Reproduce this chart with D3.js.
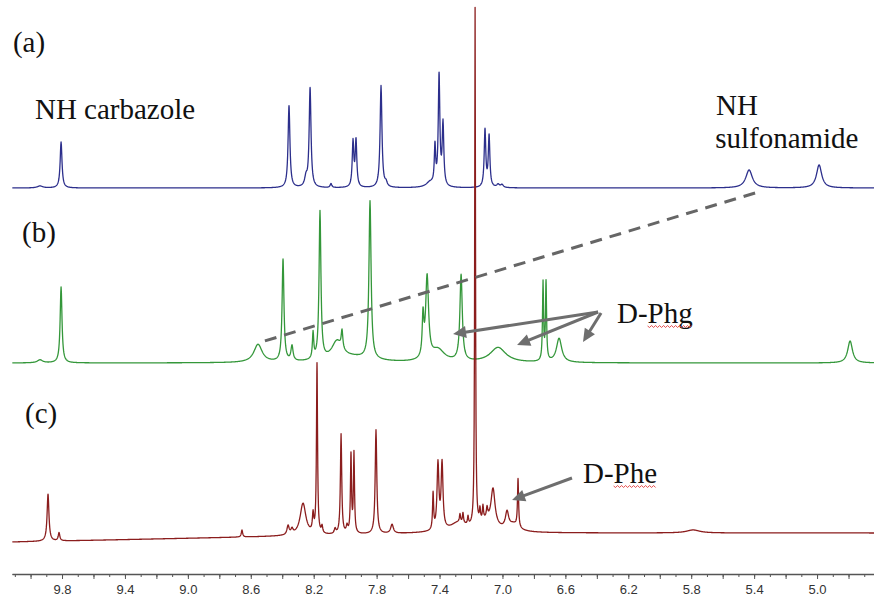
<!DOCTYPE html>
<html>
<head>
<meta charset="utf-8">
<script src="https://cdn.jsdelivr.net/npm/d3@7"></script>
<style>
body { margin: 0; background: #fff; }
svg { display: block; }
.axis text { font-family: "Liberation Sans", Arial, sans-serif; font-size: 13px; fill: #333; }
.axis path, .axis line { stroke: #555; }
.label { font-family: "Liberation Serif", "Times New Roman", serif; font-size: 29px; fill: #111; }
</style>
</head>
<body>
<svg id="nmr" width="874" height="599"></svg>
<script>
// chemical shift window (ppm) and the labelled ticks
var ppmRange = [10.118, 4.638];
var tickLabels = [9.8, 9.4, 9.0, 8.6, 8.2, 7.8, 7.4, 7.0, 6.6, 6.2, 5.8, 5.4, 5.0];

// peaks: [ppm, height, half width at half height (ppm)]
var peaksA = [
    [9.94, 2, 0.02], [9.806, 46, 0.007],
    [8.357, 82, 0.007], [8.249, 9, 0.01], [8.223, 99, 0.007], [8.090, 4, 0.006],
    [7.950, 45, 0.006], [7.931, 46, 0.006], [7.772, 102, 0.007], [7.740, 4, 0.008],
    [7.460, 5, 0.03], [7.429, 38, 0.005], [7.403, 110, 0.006], [7.378, 62, 0.006],
    [7.111, 57, 0.006], [7.085, 51, 0.006], [7.028, 3, 0.01], [7.003, 3, 0.01],
    [5.432, 18, 0.025], [4.987, 23, 0.02]
];
var peaksB = [
    [9.94, 3, 0.02], [9.806, 76, 0.007],
    [8.554, 18, 0.032], [8.395, 102, 0.007], [8.338, 15, 0.008], [8.204, 26, 0.005],
    [8.160, 148, 0.007], [8.052, 18, 0.04], [8.020, 18, 0.006], [7.95, 5, 0.15],
    [7.842, 158, 0.008], [7.505, 40, 0.006], [7.479, 82, 0.011], [7.410, 12, 0.05],
    [7.263, 86, 0.009], [7.028, 15, 0.06],
    [6.742, 78, 0.004], [6.723, 78, 0.004], [6.640, 24, 0.02], [4.790, 22, 0.018]
];
var peaksC = [
    [9.889, 47, 0.007], [9.819, 8, 0.006], [8.656, 7, 0.005],
    [8.363, 9, 0.008], [8.338, 5, 0.008], [8.268, 32, 0.022], [8.204, 18, 0.005],
    [8.179, 170, 0.004], [8.147, 7, 0.005], [8.064, 5, 0.006], [8.026, 100, 0.005],
    [7.988, 7, 0.006], [7.963, 78, 0.004], [7.944, 80, 0.004], [7.804, 104, 0.006],
    [7.702, 9, 0.01], [7.441, 36, 0.004], [7.410, 66, 0.007], [7.384, 66, 0.007],
    [7.28, 9, 0.06], [7.270, 8, 0.004], [7.251, 10, 0.004], [7.219, 8, 0.004],
    [7.174, 518, 0.003], [7.143, 12, 0.004], [7.124, 14, 0.004], [7.098, 10, 0.005],
    [7.10, 10, 0.06], [7.060, 36, 0.015], [6.971, 16, 0.012], [6.93, 7, 0.04],
    [6.901, 48, 0.004], [5.788, 3, 0.05]
];

// vertical offset of each trace baseline (intensity units)
var offsetA = 386;
var offsetB = 211;
var baselineC = [[10.12, 32], [8.6, 37], [7.4, 41], [4.6, 41]];

// annotations: [ppm, intensity] pairs
var dashLine = [[5.394, 381], [8.554, 231]];
var arrows = [
    [[6.392, 262], [7.314, 240]],
    [[6.392, 262], [6.907, 229]],
    [[6.373, 261], [6.488, 232]],
    [[6.558, 96], [6.939, 74]]
];
var labels = [
    {text: '(a)', ppm: 10.112, v: 522},
    {text: 'NH carbazole', ppm: 9.972, v: 455},
    {text: 'NH', ppm: 5.642, v: 459},
    {text: 'sulfonamide', ppm: 5.648, v: 426},
    {text: '(b)', ppm: 10.054, v: 332},
    {text: '(c)', ppm: 10.035, v: 151},
    {text: 'D-Phg', ppm: 6.272, v: 251, squiggle: 2},
    {text: 'D-Phe', ppm: 6.488, v: 91, squiggle: 2}
];

var svg = d3.select('#nmr');
var x = d3.scaleLinear().domain(ppmRange).range([12, 874]);
var y = d3.scaleLinear().domain([0, 560]).range([574, 14]);

function lorentz(peaks, p) {
    var s = 0;
    peaks.forEach(function (pk) {
        var d = p - pk[0], g = pk[2];
        s += pk[1] * g * g / (d * d + g * g);
    });
    return s;
}

function spectrum(peaks, base) {
    var pts = d3.range(ppmRange[1], ppmRange[0], 0.002);
    peaks.forEach(function (pk) { pts.push(pk[0]); });
    pts.sort(d3.descending);
    return pts.map(function (p) { return [p, base(p) + lorentz(peaks, p)]; });
}

var baseC = d3.scaleLinear()
    .domain(baselineC.map(function (d) { return d[0]; }))
    .range(baselineC.map(function (d) { return d[1]; }));

var line = d3.line()
    .x(function (d) { return x(d[0]); })
    .y(function (d) { return y(d[1]); });

var traces = [
    {data: spectrum(peaksA, function () { return offsetA; }), color: '#2c2f8c'},
    {data: spectrum(peaksB, function () { return offsetB; }), color: '#34973a'},
    {data: spectrum(peaksC, baseC), color: '#8b1d1d'}
];

svg.append('g').selectAll('path').data(traces).enter().append('path')
    .attr('d', function (d) { return line(d.data); })
    .attr('fill', 'none')
    .attr('stroke', function (d) { return d.color; })
    .attr('stroke-width', 1.3)
    .attr('stroke-linejoin', 'round');

// axis: long ticks every 0.2, short every 0.1, labels every 0.4
var minorAxis = d3.axisBottom(x)
    .tickValues(d3.range(4.7, 10.15, 0.1))
    .tickSize(3).tickSizeOuter(0).tickFormat('');
var majorAxis = d3.axisBottom(x)
    .tickValues(d3.range(4.8, 10.05, 0.2))
    .tickSize(5).tickSizeOuter(0).tickPadding(6)
    .tickFormat(function (d) {
        var hit = tickLabels.find(function (t) { return Math.abs(t - d) < 0.01; });
        return hit === undefined ? '' : hit.toFixed(1);
    });
svg.append('g').attr('class', 'axis').attr('transform', 'translate(0,' + y(0) + ')').call(minorAxis);
svg.append('g').attr('class', 'axis').attr('transform', 'translate(0,' + y(0) + ')').call(majorAxis)
    .select('.domain').attr('stroke-width', 1.5);

// dashed guide
svg.append('line')
    .attr('x1', x(dashLine[0][0])).attr('y1', y(dashLine[0][1]))
    .attr('x2', x(dashLine[1][0])).attr('y2', y(dashLine[1][1]))
    .attr('stroke', '#666').attr('stroke-width', 3)
    .attr('stroke-dasharray', '12,8');

// arrows
var ag = svg.append('g');
arrows.forEach(function (a) {
    var x1 = x(a[0][0]), y1 = y(a[0][1]), x2 = x(a[1][0]), y2 = y(a[1][1]);
    var len = Math.hypot(x2 - x1, y2 - y1), ux = (x2 - x1) / len, uy = (y2 - y1) / len;
    var hl = 13, hw = 6;
    var bx = x2 - ux * hl, by = y2 - uy * hl;
    ag.append('line')
        .attr('x1', x1).attr('y1', y1).attr('x2', bx + ux).attr('y2', by + uy)
        .attr('stroke', '#6e6e6e').attr('stroke-width', 3);
    ag.append('path')
        .attr('d', 'M' + x2 + ',' + y2 + 'L' + (bx - uy * hw) + ',' + (by + ux * hw) +
            'L' + (bx + uy * hw) + ',' + (by - ux * hw) + 'Z')
        .attr('fill', '#6e6e6e');
});

// text labels
labels.forEach(function (l) {
    var t = svg.append('text').attr('class', 'label')
        .attr('x', x(l.ppm)).attr('y', y(l.v)).text(l.text);
    if (l.squiggle !== undefined) {
        var node = t.node();
        var sx = node.getStartPositionOfChar(l.squiggle).x;
        var ex = x(l.ppm) + node.getComputedTextLength();
        var sy = y(l.v) + 3, d = 'M' + sx + ',' + sy;
        for (var i = 1, xx = sx + 2; xx <= ex; xx += 2, i++) {
            d += 'L' + xx + ',' + (sy + (i % 2 ? 1.5 : -0.5));
        }
        svg.append('path').attr('d', d).attr('fill', 'none')
            .attr('stroke', '#e03a3a').attr('stroke-width', 0.9);
    }
});
</script>
</body>
</html>
